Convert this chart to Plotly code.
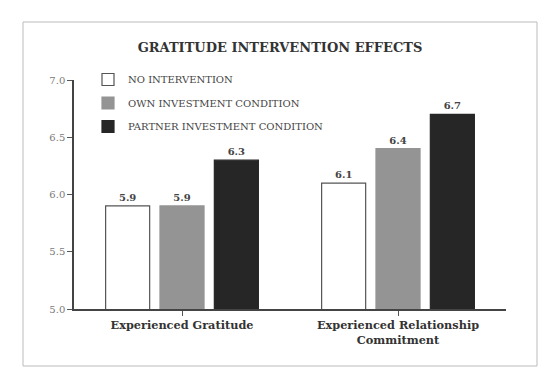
import plotly.graph_objects as go

categories = ["Experienced Gratitude", "Experienced Relationship<br>Commitment"]
series_names = ["NO INTERVENTION", "OWN INVESTMENT CONDITION", "PARTNER INVESTMENT CONDITION"]
no_intervention = [5.9, 6.1]
own_investment = [5.9, 6.4]
partner_investment = [6.3, 6.7]
y_ticks = [5.0, 5.5, 6.0, 6.5, 7.0]
title_text = "GRATITUDE INTERVENTION EFFECTS"

# page body has an 8px margin, so the figure is drawn at (8, 8)
OFF = 8
W, H = 553 - OFF, 375 - OFF
ML, MR, MT, MB = 74 - OFF, 47, 80 - OFF, 66
PW, PH = W - ML - MR, H - MT - MB

def px_x(x):
    return (x - OFF - ML) / PW

def px_y(y):
    return (H - MB - (y - OFF)) / PH

SERIF = "DejaVu Serif"
fills = ["#ffffff", "#949494", "#262626"]
lines = ["#555555", "#949494", "#262626"]
values = [no_intervention, own_investment, partner_investment]

fig = go.Figure()
for i, (name, vals) in enumerate(zip(series_names, values)):
    fig.add_trace(go.Bar(
        x=categories, y=vals, name=name,
        legendgroup=name,
        marker=dict(color=fills[i], line=dict(color=lines[i], width=1.2)),
        text=[f"{v:.1f}" for v in vals],
        textposition="outside",
        textfont=dict(family=SERIF, size=10, color="#444444", weight="bold"),
        cliponaxis=False,
    ))

fig.update_layout(
    width=W, height=H,
    margin=dict(l=ML, r=MR, t=MT, b=MB),
    paper_bgcolor="white", plot_bgcolor="white",
    barmode="group", bargap=0.245, bargroupgap=0.19,
    title=dict(text=title_text, x=(280 - OFF) / W, xanchor="center",
               y=1 - (47 - OFF) / H, yanchor="middle",
               font=dict(family=SERIF, size=13, color="#333333", weight="bold")),
    legend=dict(x=px_x(88), y=px_y(65), xanchor="left", yanchor="top",
                bgcolor="rgba(0,0,0,0)", tracegroupgap=4.5,
                font=dict(family=SERIF, size=10, color="#444444")),
    showlegend=True,
    xaxis=dict(showline=True, linecolor="#444444", linewidth=1.5,
               ticks="outside", ticklen=5, tickcolor="#555555", tickwidth=1,
               tickfont=dict(family=SERIF, size=11.3, color="#333333", weight="bold"),
               showgrid=False, zeroline=False),
    yaxis=dict(range=[5.0, 7.0], tickvals=y_ticks, tickformat=".1f",
               showline=True, linecolor="#444444", linewidth=1.5,
               ticks="outside", ticklen=5, tickcolor="#555555", tickwidth=1,
               tickfont=dict(family=SERIF, size=10, color="#7a7a7a"),
               showgrid=False, zeroline=False),
    shapes=[dict(type="rect", xref="paper", yref="paper",
                 x0=px_x(23), x1=px_x(537), y0=px_y(366), y1=px_y(22),
                 line=dict(color="#bbbbbb", width=1), fillcolor="rgba(0,0,0,0)",
                 layer="below")],
)

fig.write_html("out.html")
